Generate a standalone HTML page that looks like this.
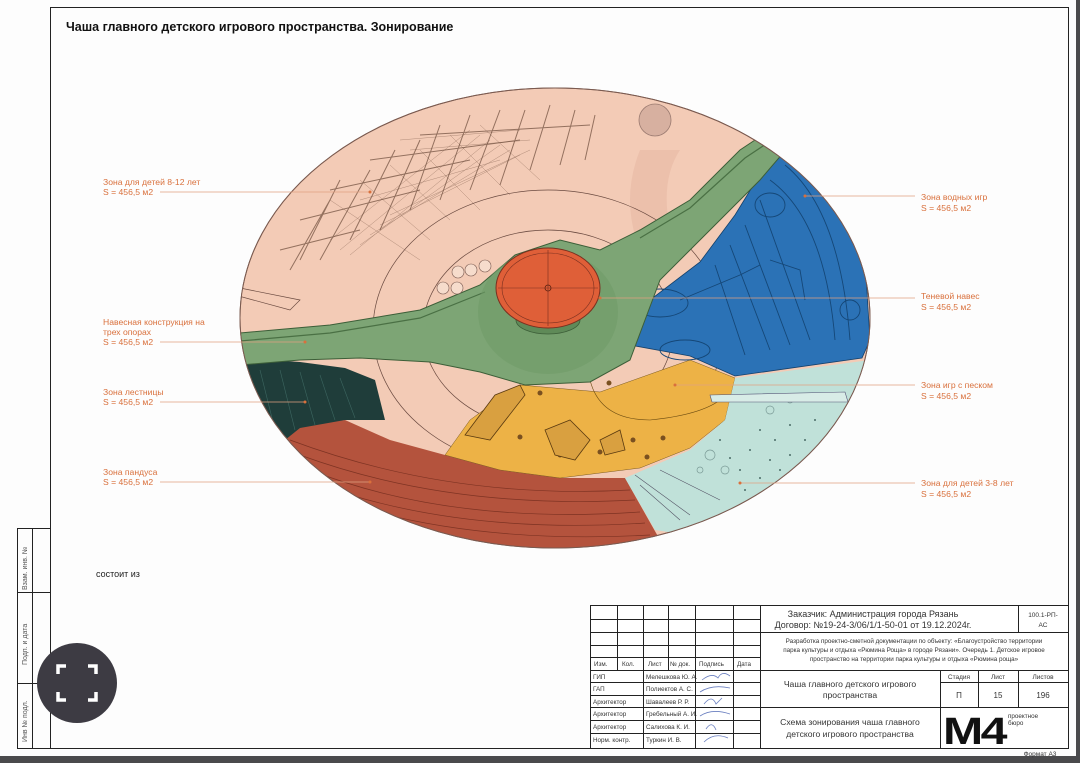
<!DOCTYPE html>
<html><head><meta charset="utf-8"><style>
html,body{margin:0;padding:0;width:1080px;height:763px;background:#4a4a4c;overflow:hidden}
svg{display:block}
text{font-family:"Liberation Sans",sans-serif}
</style></head><body>
<svg width="1080" height="763" viewBox="0 0 1080 763" xmlns="http://www.w3.org/2000/svg">
<rect x="0" y="0" width="1076" height="756" fill="#fdfdfd"/>
<g stroke="#222" stroke-width="1" fill="none">
<line x1="50" y1="7.5" x2="1068" y2="7.5"/>
<line x1="1068.5" y1="7" x2="1068.5" y2="748"/>
<line x1="17" y1="748.5" x2="1068" y2="748.5"/>
<line x1="50.5" y1="7" x2="50.5" y2="748"/>
<line x1="17.5" y1="528" x2="17.5" y2="748"/>
<line x1="32.5" y1="528" x2="32.5" y2="748"/>
<line x1="17" y1="528.5" x2="50" y2="528.5"/>
<line x1="17" y1="592.5" x2="50" y2="592.5"/>
<line x1="17" y1="683.5" x2="50" y2="683.5"/>
</g>
<g font-size="7" fill="#555">
<text transform="translate(27,590) rotate(-90)">Взам. инв. №</text>
<text transform="translate(27,665) rotate(-90)">Подп. и дата</text>
<text transform="translate(27,742) rotate(-90)">Инв № подл.</text>
</g>
<text x="66" y="31" font-size="12.5" font-weight="bold" fill="#111">Чаша главного детского игрового пространства. Зонирование</text>
<text x="96" y="577" font-size="9" fill="#222">состоит из</text>

<defs><clipPath id="ell"><ellipse cx="555" cy="318" rx="315" ry="230"/></clipPath></defs>
<ellipse cx="555" cy="318" rx="315" ry="230" fill="#f3cbb6" stroke="#8a6a5a" stroke-width="1"/>
<g clip-path="url(#ell)">
<g stroke="#6b4a3a" stroke-width="1" opacity=".7">
<path d="M300,260 L340,180 M320,260 L370,170 M350,240 L395,150 M380,230 L420,140 M410,210 L440,125 M440,200 L470,115 M470,190 L500,110 M500,185 L525,110 M530,170 L550,105 M560,165 L575,110 M585,160 L595,115 M280,250 L360,230 M300,220 L420,190 M330,190 L470,160 M370,160 L520,140 M420,135 L590,125 M290,270 L330,200"/>
</g>
<g stroke="#5a3a2a" stroke-width=".4" opacity=".55">
<path d="M330,240 L470,130 M340,250 L480,135 M350,255 L490,140 M360,245 L500,145 M370,235 L510,150 M380,225 L520,155 M390,215 L530,150 M330,200 L420,260 M360,180 L430,240 M390,165 L450,220 M420,150 L480,210 M450,135 L510,195 M480,125 L540,180 M400,140 L520,130 M410,150 L530,140 M360,200 L500,160"/>
</g>
<circle cx="655" cy="120" r="16" fill="#d7b0a0" stroke="#9a7a70" stroke-width=".8"/>
<path d="M640,150 Q620,200 640,250 L670,230 Q660,180 680,150 Z" fill="#e8bba7" opacity=".7"/>
<ellipse cx="548" cy="330" rx="175" ry="140" fill="none" stroke="#6a4a40" stroke-width=".7"/>
<ellipse cx="548" cy="330" rx="125" ry="100" fill="none" stroke="#6a4a40" stroke-width=".7"/>
<path d="M250,420 L300,425 L345,420 L390,440 L445,455 L500,470 L560,478 L625,478 L660,540 L600,560 L300,560 L230,460 Z" fill="#b4533d"/>
<g stroke="#7e3323" stroke-width=".7" fill="none">
<path d="M290,440 Q450,500 630,490 M300,455 Q450,510 635,500 M310,470 Q450,525 640,512 M320,485 Q460,535 645,523 M335,500 Q470,545 650,535"/>
</g>
<path d="M240,358 L300,362 L345,368 L375,380 L385,420 L345,420 L300,428 L285,440 L240,430 Z" fill="#1f3d3a"/>
<g stroke="#3c6660" stroke-width=".6"><path d="M260,370 L275,430 M280,370 L295,430 M300,372 L315,425 M320,375 L335,420 M340,378 L355,418"/></g>
<path d="M520,385 L600,392 L690,360 L735,378 L725,420 L690,448 L640,468 L560,478 L500,470 L445,455 L470,420 L500,398 Z" fill="#edb246" stroke="#7a5a20" stroke-width=".5"/>
<path d="M590,380 Q600,420 650,420 Q700,415 720,400" fill="none" stroke="#6a4a10" stroke-width=".6"/>
<g fill="#7a5020"><circle cx="609" cy="383" r="2.5"/><circle cx="540" cy="393" r="2.5"/><circle cx="663" cy="438" r="2.5"/><circle cx="633" cy="440" r="2.5"/><circle cx="647" cy="457" r="2.5"/><circle cx="600" cy="452" r="2.5"/><circle cx="520" cy="437" r="2.5"/><circle cx="560" cy="455" r="2.5"/></g>
<g stroke="#5a3a10" stroke-width=".8" fill="#d9a040"><path d="M465,435 L495,395 L520,385 L525,395 L490,440 Z"/><path d="M545,430 L570,420 L590,440 L575,460 L555,455 Z"/><path d="M600,440 L620,430 L625,450 L605,455 Z"/></g>
<path d="M735,378 L870,360 L880,400 L800,520 L720,540 L655,530 L625,478 L690,450 L725,420 Z" fill="#c0e1d9"/>
<g fill="#4a6a66"><circle cx="760" cy="430" r="1"/><circle cx="775" cy="440" r="1"/><circle cx="790" cy="425" r="1"/><circle cx="805" cy="440" r="1"/><circle cx="750" cy="450" r="1"/><circle cx="770" cy="460" r="1"/><circle cx="790" cy="455" r="1"/><circle cx="740" cy="470" r="1"/><circle cx="760" cy="478" r="1"/><circle cx="780" cy="470" r="1"/><circle cx="720" cy="440" r="1"/><circle cx="730" cy="458" r="1"/><circle cx="745" cy="490" r="1"/><circle cx="815" cy="420" r="1"/><circle cx="800" cy="465" r="1"/></g>
<g fill="none" stroke="#7a9a96" stroke-width=".7"><circle cx="710" cy="455" r="5"/><circle cx="725" cy="470" r="4"/><circle cx="770" cy="410" r="4"/><circle cx="790" cy="400" r="3"/><circle cx="700" cy="470" r="3"/></g>
<path d="M710,395 L845,392 L848,402 L712,402 Z" fill="#d8ece7" stroke="#557" stroke-width=".6"/>
<g stroke="#556" stroke-width=".6"><path d="M635,475 L690,515 M640,485 L680,520 M660,470 L720,500"/></g>
<path d="M630,345 L650,300 L700,262 L735,215 L775,150 L830,190 L865,260 L870,340 L862,358 L735,376 L690,356 Z" fill="#2b72b6" stroke="#14406a" stroke-width=".8"/>
<g fill="none" stroke="#154777" stroke-width=".9">
<path d="M785,165 Q840,210 850,340 M770,180 Q825,220 835,340 M760,200 L810,340 M745,225 L790,345 M730,245 L770,350 M715,265 L745,355"/>
<ellipse cx="660" cy="303" rx="28" ry="14"/><ellipse cx="685" cy="350" rx="25" ry="10"/><ellipse cx="770" cy="205" rx="15" ry="12"/><ellipse cx="850" cy="310" rx="10" ry="10"/>
<path d="M680,300 L740,275 L760,265 M770,260 L800,270 L805,300"/>
</g>
<path d="M240,333 L330,325 L420,310 L480,285 L515,255 L560,240 L600,250 L640,230 L690,200 L740,150 L770,130 L790,145 L760,180 L720,220 L690,250 L660,280 L645,320 L630,360 L590,382 L525,385 L480,372 L430,362 L360,358 L300,360 L240,365 Z" fill="#7da575" stroke="#3c5e38" stroke-width="1"/>
<path d="M240,341 L330,333 L420,318 L485,292 M640,238 L690,208 L745,158 L775,138" fill="none" stroke="#4a7044" stroke-width="1.2"/>
<ellipse cx="548" cy="312" rx="70" ry="62" fill="#6f9b68" opacity=".6"/>
<ellipse cx="548" cy="320" rx="32" ry="14" fill="#5f8a58" stroke="#3c5e38" stroke-width=".8"/>
<rect x="516" y="295" width="64" height="25" fill="#6f9b68"/>
<ellipse cx="548" cy="288" rx="52" ry="40" fill="#df5f38" stroke="#7a3020" stroke-width="1"/>
<ellipse cx="548" cy="288" rx="46" ry="35" fill="none" stroke="#7a3020" stroke-width=".6"/>
<path d="M548,250 L548,326 M498,288 L598,288" stroke="#7a3020" stroke-width=".6"/>
<circle cx="548" cy="288" r="3" fill="none" stroke="#5a2010" stroke-width=".8"/>
<g fill="#f6dccc" stroke="#7a5a50" stroke-width=".6"><circle cx="458" cy="272" r="6"/><circle cx="471" cy="270" r="6"/><circle cx="485" cy="266" r="6"/><circle cx="443" cy="288" r="6"/><circle cx="457" cy="288" r="6"/></g>
<path d="M235,295 L290,310 L300,300 L240,288 Z" fill="#f3cbb6" stroke="#6a4a40" stroke-width=".7"/>
</g>
<ellipse cx="555" cy="318" rx="315" ry="230" fill="none" stroke="#7a5a50" stroke-width="1"/>

<g stroke="#e0a080" stroke-width=".7">
<line x1="160" y1="192" x2="370" y2="192"/>
<line x1="160" y1="342" x2="305" y2="342"/>
<line x1="160" y1="402" x2="305" y2="402"/>
<line x1="160" y1="482" x2="370" y2="482"/>
<line x1="805" y1="196" x2="915" y2="196"/>
<line x1="600" y1="298" x2="915" y2="298"/>
<line x1="675" y1="385" x2="915" y2="385"/>
<line x1="740" y1="483" x2="915" y2="483"/>
</g>
<g fill="#d9703c"><circle cx="370" cy="192" r="1.5"/><circle cx="305" cy="342" r="1.5"/><circle cx="305" cy="402" r="1.5"/><circle cx="370" cy="482" r="1.5"/><circle cx="805" cy="196" r="1.5"/><circle cx="600" cy="298" r="1.5"/><circle cx="675" cy="385" r="1.5"/><circle cx="740" cy="483" r="1.5"/></g>
<g font-size="8.6" fill="#d9703c">
<text x="103" y="185">Зона для детей 8-12 лет</text><text x="103" y="195">S = 456,5 м2</text>
<text x="103" y="325">Навесная конструкция на</text><text x="103" y="335">трех опорах</text><text x="103" y="345">S = 456,5 м2</text>
<text x="103" y="395">Зона лестницы</text><text x="103" y="405">S = 456,5 м2</text>
<text x="103" y="475">Зона пандуса</text><text x="103" y="485">S = 456,5 м2</text>
<text x="921" y="200">Зона водных игр</text><text x="921" y="211">S = 456,5 м2</text>
<text x="921" y="299">Теневой навес</text><text x="921" y="310">S = 456,5 м2</text>
<text x="921" y="388">Зона игр с песком</text><text x="921" y="399">S = 456,5 м2</text>
<text x="921" y="486">Зона для детей 3-8 лет</text><text x="921" y="497">S = 456,5 м2</text>
</g>

<rect x="590.5" y="605.5" width="478" height="143" fill="#fff" stroke="#222"/>
<g stroke="#222" stroke-width="1">
<line x1="617.5" y1="606" x2="617.5" y2="670"/><line x1="643.5" y1="606" x2="643.5" y2="748"/>
<line x1="668.5" y1="606" x2="668.5" y2="670"/><line x1="695.5" y1="606" x2="695.5" y2="748"/>
<line x1="733.5" y1="606" x2="733.5" y2="748"/><line x1="760.5" y1="606" x2="760.5" y2="748"/>
<line x1="590" y1="619.5" x2="760" y2="619.5"/><line x1="590" y1="632.5" x2="1068" y2="632.5"/>
<line x1="590" y1="645.5" x2="760" y2="645.5"/><line x1="590" y1="657.5" x2="760" y2="657.5"/>
<line x1="590" y1="670.5" x2="1068" y2="670.5"/>
<line x1="590" y1="682.5" x2="760" y2="682.5"/><line x1="590" y1="695.5" x2="760" y2="695.5"/>
<line x1="590" y1="707.5" x2="1068" y2="707.5"/><line x1="590" y1="720.5" x2="760" y2="720.5"/>
<line x1="590" y1="733.5" x2="760" y2="733.5"/>
<line x1="1018.5" y1="606" x2="1018.5" y2="632"/>
<line x1="940.5" y1="670" x2="940.5" y2="748"/><line x1="978.5" y1="670" x2="978.5" y2="707"/>
<line x1="1018.5" y1="670" x2="1018.5" y2="707"/><line x1="940" y1="682.5" x2="1068" y2="682.5"/>
</g>
<g font-size="6.3" fill="#333">
<text x="594" y="666">Изм.</text><text x="622" y="666">Кол.</text><text x="648" y="666">Лист</text><text x="670" y="666">№ док.</text><text x="699" y="666">Подпись</text><text x="737" y="666">Дата</text>
<text x="593" y="679">ГИП</text><text x="646" y="679">Мелешкова Ю. А.</text>
<text x="593" y="691">ГАП</text><text x="646" y="691">Полиектов А. С.</text>
<text x="593" y="704">Архитектор</text><text x="646" y="704">Шавалеев Р. Р.</text>
<text x="593" y="716">Архитектор</text><text x="646" y="716">Гребельный А. И.</text>
<text x="593" y="729">Архитектор</text><text x="646" y="729">Салихова К. И.</text>
<text x="593" y="742">Норм. контр.</text><text x="646" y="742">Туркин И. В.</text>
</g>
<g fill="none" stroke="#6a7fc0" stroke-width=".8">
<path d="M702,680 Q712,672 718,678 Q722,670 730,676"/><path d="M700,692 Q712,684 730,688"/>
<path d="M704,704 Q712,694 716,704 L722,698"/><path d="M700,716 Q712,708 730,714"/>
<path d="M706,729 Q712,720 716,730"/><path d="M704,742 Q714,732 728,738"/>
</g>
<g fill="#333" text-anchor="middle">
<text x="873" y="617" font-size="9">Заказчик: Администрация города Рязань</text>
<text x="873" y="628" font-size="9">Договор: №19-24-3/06/1/1-50-01 от 19.12.2024г.</text>
<text x="1043" y="617" font-size="6.5">100.1-РП-</text><text x="1043" y="627" font-size="6.5">АС</text>
<text x="914" y="643" font-size="6.3">Разработка проектно-сметной документации по объекту: «Благоустройство территории</text>
<text x="914" y="652" font-size="6.3">парка культуры и отдыха «Рюмина Роща» в городе Рязани». Очередь 1. Детское игровое</text>
<text x="914" y="661" font-size="6.3">пространство на территории парка культуры и отдыха «Рюмина роща»</text>
<text x="850" y="687" font-size="8.6">Чаша главного детского игрового</text>
<text x="850" y="698" font-size="8.6">пространства</text>
<text x="850" y="725" font-size="8.6">Схема зонирования чаша главного</text>
<text x="850" y="737" font-size="8.6">детского игрового пространства</text>
<text x="959" y="679" font-size="6.5">Стадия</text><text x="998" y="679" font-size="6.5">Лист</text><text x="1043" y="679" font-size="6.5">Листов</text>
<text x="959" y="698" font-size="8">П</text><text x="998" y="698" font-size="8">15</text><text x="1043" y="698" font-size="8">196</text>
<text x="1040" y="756" font-size="6.5">Формат А3</text>
</g>
<text x="943" y="744" font-size="38" font-weight="bold" fill="#111" letter-spacing="-2" textLength="62" lengthAdjust="spacingAndGlyphs">M4</text>
<text x="1008" y="718" font-size="6.3" fill="#333">проектное</text><text x="1008" y="725" font-size="6.3" fill="#333">бюро</text>

<circle cx="77" cy="683" r="40" fill="#3d3b43"/>
<g fill="none" stroke="#fff" stroke-width="3.5">
<path d="M58,674 L58,666 L66,666 M88,666 L96,666 L96,674 M96,692 L96,700 L88,700 M66,700 L58,700 L58,692"/>
</g>
</svg>
</body></html>
